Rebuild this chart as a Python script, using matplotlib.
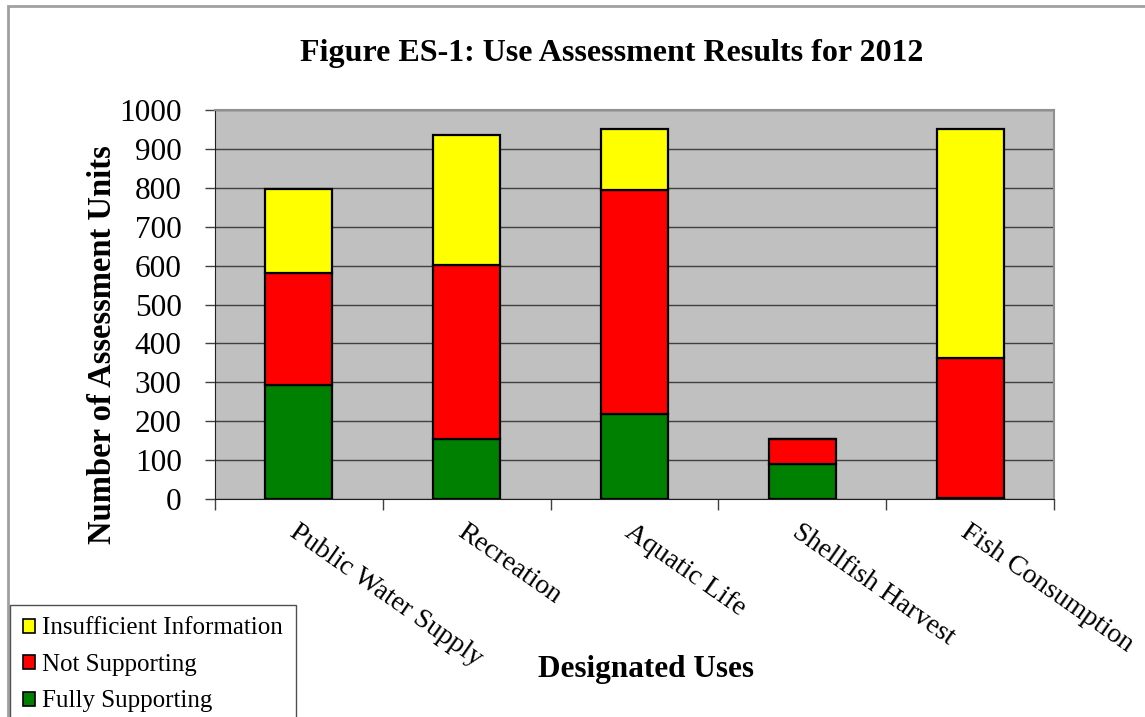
import numpy as np
import matplotlib.pyplot as plt
from matplotlib.patches import Patch, Rectangle

plt.rcParams['font.family'] = ['Liberation Serif', 'DejaVu Serif']

# data
uses = ["Public Water Supply", "Recreation", "Aquatic Life", "Shellfish Harvest", "Fish Consumption"]
fully = [293, 153, 218, 89, 3]
not_supp = [287, 448, 576, 64, 360]
insuff = [216, 334, 156, 0, 587]

c_fully = "#008000"
c_not = "#FF0000"
c_insuff = "#FFFF00"

W, H = 1145, 717
fig = plt.figure(figsize=(W / 100, H / 100), dpi=100)
ax = fig.add_axes([215 / W, 1 - 499 / H, (1054 - 215) / W, (499 - 110) / H])
ax.set_facecolor("#C0C0C0")

x = np.arange(len(uses))
fully = np.array(fully)
not_supp = np.array(not_supp)
insuff = np.array(insuff)
bw = 0.4
ax.bar(x, fully, bw, color=c_fully, edgecolor="black", linewidth=1.6, zorder=3)
ax.bar(x, not_supp, bw, bottom=fully, color=c_not, edgecolor="black", linewidth=1.6, zorder=3)
ax.bar(x, insuff, bw, bottom=fully + not_supp, color=c_insuff, edgecolor="black",
       linewidth=1.6, zorder=3)

ax.set_xlim(-0.5, len(uses) - 0.5)
ax.set_ylim(0, 1000)
ax.set_yticks(np.arange(0, 1001, 100))
ax.yaxis.grid(True, color="#404040", linewidth=1.0, zorder=1)
ax.set_axisbelow(True)
ax.tick_params(axis="y", labelsize=22.5, length=7, width=1, color="#404040", pad=17)

# boundaries get the tick marks, centres get the labels
ax.set_xticks(np.arange(-0.5, len(uses), 1.0))
ax.set_xticklabels([])
ax.set_xticks(x, uses, minor=True)
ax.tick_params(axis="x", which="major", length=8, width=1, color="#404040")
ax.tick_params(axis="x", which="minor", length=0, labelsize=20, pad=15)
for lab in ax.get_xticklabels(minor=True):
    lab.set_rotation(-35)
    lab.set_rotation_mode("anchor")
    lab.set_ha("left")
    lab.set_va("top")

for side in ["left", "bottom"]:
    ax.spines[side].set_color("#202020")
for side in ["top", "right"]:
    ax.spines[side].set_color("#909090")
    ax.spines[side].set_linewidth(1.5)

fig.text(612 / W, 1 - 54 / H, "Figure ES-1: Use Assessment Results for 2012",
         ha="center", va="center", fontsize=23, fontweight="bold")
fig.text(103 / W, 1 - 345 / H, "Number of Assessment Units", rotation=90,
         ha="center", va="center", fontsize=23.5, fontweight="bold")
fig.text(646 / W, 1 - 670 / H, "Designated Uses",
         ha="center", va="center", fontsize=22.5, fontweight="bold")

handles = [Patch(facecolor=c_insuff, edgecolor="black", linewidth=1.2),
           Patch(facecolor=c_not, edgecolor="black", linewidth=1.2),
           Patch(facecolor=c_fully, edgecolor="black", linewidth=1.2)]
leg = fig.legend(handles, ["Insufficient Information", "Not Supporting", "Fully Supporting"],
                 loc="upper left", bbox_to_anchor=(10 / W, 1 - 605 / H),
                 fontsize=18, frameon=True, fancybox=False, framealpha=1,
                 edgecolor="#505050", handlelength=0.5, handleheight=0.5,
                 handletextpad=0.3, labelspacing=0.58, borderpad=0.5,
                 borderaxespad=0)
leg.get_frame().set_linewidth(1.0)

# outer chart border (only top and left edges fall inside the crop)
fig.patches.append(Rectangle((8 / W, -0.1), 1.2, 1 - 6 / H + 0.1, transform=fig.transFigure,
                             fill=False, edgecolor="#A0A0A0", linewidth=2))

fig.savefig("out.png", dpi=100)
